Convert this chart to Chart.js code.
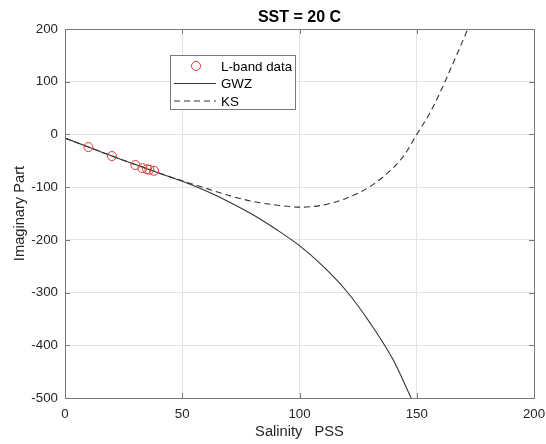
<!DOCTYPE html>
<html>
<head>
<meta charset="utf-8">
<script src="https://cdn.jsdelivr.net/npm/chart.js@4.4.0/dist/chart.umd.min.js"></script>
<style>
html,body{margin:0;padding:0;background:#fff;}
#wrap{width:546px;height:444px;}
</style>
</head>
<body>
<div id="wrap"><canvas id="c" width="546" height="444"></canvas></div>
<script>
// ---- data ----
const titleText = 'SST = 20 C';
const xLabel = 'Salinity   PSS';
const yLabel = 'Imaginary Part';
const legendLabels = ['L-band data', 'GWZ', 'KS'];

const dataSalinity = [10, 20, 30, 33, 35, 36, 38];
const dataImag     = [-24, -41, -58, -64, -66, -67, -69];

const gwzSalinity = [0, 10, 20, 30, 40, 50, 60, 70, 80, 90, 100, 110, 120, 130, 140, 147.6];
const gwzImag     = [-7, -24, -41, -57, -73, -89, -107, -128, -152, -180, -211, -250, -297, -357, -428, -500];

const ksSalinity = [0, 10, 20, 30, 40, 50, 60, 70, 80, 90, 100, 110, 120, 130, 140, 145, 150, 155, 160, 165, 171.5];
const ksImag     = [-7, -24, -41, -57, -73, -88, -102, -116, -127, -134, -138, -134, -121, -99, -63, -37, 0, 36, 80, 130, 197];

const xTicks = [0, 50, 100, 150, 200];
const yTicks = [-500, -400, -300, -200, -100, 0, 100, 200];

const toXY = (xs, ys) => xs.map((x, i) => ({x: x, y: ys[i]}));

const axisColor = '#262626';
const tickFont = {family: 'Liberation Sans, Arial, sans-serif', size: 13.33};

const framePlugin = {
  id: 'frame',
  afterDraw(chart) {
    const ctx = chart.ctx;
    const a = chart.chartArea;
    const xs = chart.scales.x, ys = chart.scales.y;
    ctx.save();
    // box
    ctx.strokeStyle = '#7a7a7a';
    ctx.lineWidth = 1;
    ctx.strokeRect(Math.round(a.left) + 0.5, Math.round(a.top) + 0.5, Math.round(a.right - a.left), Math.round(a.bottom - a.top));
    // inward ticks
    const tl = 5;
    ctx.beginPath();
    xs.ticks.forEach(t => {
      const px = Math.round(xs.getPixelForValue(t.value)) + 0.5;
      ctx.moveTo(px, a.bottom); ctx.lineTo(px, a.bottom - tl);
      ctx.moveTo(px, a.top); ctx.lineTo(px, a.top + tl);
    });
    ys.ticks.forEach(t => {
      const py = Math.round(ys.getPixelForValue(t.value)) + 0.5;
      ctx.moveTo(a.left, py); ctx.lineTo(a.left + tl, py);
      ctx.moveTo(a.right, py); ctx.lineTo(a.right - tl, py);
    });
    ctx.stroke();

    // title
    ctx.fillStyle = '#000';
    ctx.font = 'bold 16px "Liberation Sans", Arial, sans-serif';
    ctx.textAlign = 'center';
    ctx.textBaseline = 'middle';
    ctx.fillText(titleText, (a.left + a.right) / 2, 18);

    // legend box
    const lx = 170, ly = 55, lw = 125, lh = 54;
    ctx.fillStyle = '#fff';
    ctx.fillRect(lx, ly, lw, lh);
    ctx.strokeStyle = '#7a7a7a';
    ctx.strokeRect(lx + 0.5, ly + 0.5, lw, lh);
    ctx.font = '13.33px "Liberation Sans", Arial, sans-serif';
    ctx.textAlign = 'left';
    const rows = [66, 83.5, 101];
    ctx.strokeStyle = '#e03a3a';
    ctx.lineWidth = 1;
    ctx.beginPath();
    ctx.arc(196, rows[0], 4.5, 0, Math.PI * 2);
    ctx.stroke();
    ctx.strokeStyle = '#333';
    ctx.beginPath();
    ctx.moveTo(174, rows[1]); ctx.lineTo(216, rows[1]);
    ctx.stroke();
    ctx.setLineDash([6, 4]);
    ctx.beginPath();
    ctx.moveTo(174, rows[2]); ctx.lineTo(216, rows[2]);
    ctx.stroke();
    ctx.setLineDash([]);
    ctx.fillStyle = '#000';
    legendLabels.forEach((s, i) => ctx.fillText(s, 221, rows[i] + 1));
    ctx.restore();
  }
};

new Chart(document.getElementById('c'), {
  type: 'scatter',
  data: {
    datasets: [
      {
        label: legendLabels[1],
        data: toXY(gwzSalinity, gwzImag),
        showLine: true,
        borderColor: '#333',
        borderWidth: 1.1,
        pointRadius: 0,
        cubicInterpolationMode: 'monotone',
        order: 2
      },
      {
        label: legendLabels[2],
        data: toXY(ksSalinity, ksImag),
        showLine: true,
        borderColor: '#333',
        borderWidth: 1.1,
        borderDash: [6, 4],
        pointRadius: 0,
        cubicInterpolationMode: 'monotone',
        order: 3
      },
      {
        label: legendLabels[0],
        data: toXY(dataSalinity, dataImag),
        showLine: false,
        pointStyle: 'circle',
        pointRadius: 4.5,
        pointBorderColor: '#e03a3a',
        pointBackgroundColor: 'rgba(0,0,0,0)',
        pointBorderWidth: 1,
        order: 1
      }
    ]
  },
  options: {
    responsive: false,
    animation: false,
    devicePixelRatio: 1,
    layout: {padding: {top: 29, right: 12, left: 0, bottom: 0}},
    plugins: {legend: {display: false}, tooltip: {enabled: false}, title: {display: false}},
    scales: {
      x: {
        type: 'linear',
        min: 0, max: 200,
        afterBuildTicks: s => { s.ticks = xTicks.map(v => ({value: v})); },
        afterFit: s => { s.height = 46; s.paddingLeft = 0; s.paddingRight = 0; },
        grid: {color: '#e4e4e4', drawTicks: false},
        border: {display: false},
        ticks: {color: axisColor, font: tickFont, padding: 8, maxRotation: 0},
        title: {display: true, text: xLabel, color: axisColor,
                font: {family: 'Liberation Sans, Arial, sans-serif', size: 14.67},
                padding: {top: 0, bottom: 3}}
      },
      y: {
        type: 'linear',
        min: -500, max: 200,
        afterBuildTicks: s => { s.ticks = yTicks.map(v => ({value: v})); },
        afterFit: s => { s.width = 65; s.paddingTop = 0; s.paddingBottom = 0; },
        grid: {color: '#e4e4e4', drawTicks: false},
        border: {display: false},
        ticks: {color: axisColor, font: tickFont, padding: 7},
        title: {display: true, text: yLabel, color: axisColor,
                font: {family: 'Liberation Sans, Arial, sans-serif', size: 14.67},
                padding: {top: 11, bottom: 0}}
      }
    }
  },
  plugins: [framePlugin]
});
</script>
</body>
</html>
